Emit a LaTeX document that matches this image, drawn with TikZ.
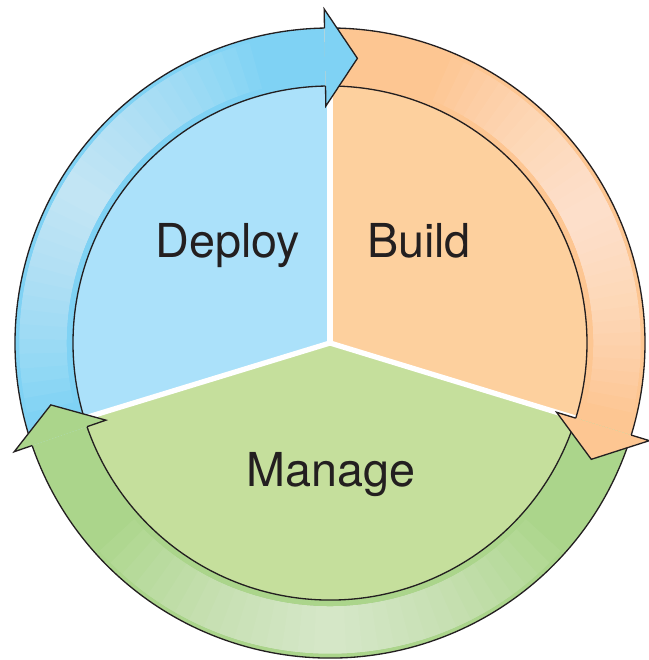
\documentclass[tikz,border=0pt]{standalone}
\usepackage{fontspec}
\setmainfont{TeX Gyre Heros}
\definecolor{pieblue}{HTML}{ABE1FA}
\definecolor{pieorange}{HTML}{FDD09E}
\definecolor{piegreen}{HTML}{C5DF9C}
\definecolor{arrblue}{HTML}{7FD2F4}
\definecolor{arrorange}{HTML}{FDC692}
\definecolor{arrgreen}{HTML}{ABD58B}
\definecolor{ink}{HTML}{231F20}
\begin{document}
\begin{tikzpicture}[scale=0.02,
		label/.style={anchor=base, text=ink, inner sep=0pt, font=\fontsize{26.6}{30}\selectfont},
		rim/.style={draw=ink, line width=0.75pt},
		divider/.style={draw=white, line width=3pt, line cap=round}]
		
		\useasboundingbox (-330,-317) rectangle (318,343);
		
		% Pie sectors
		\fill[pieblue] (0,0) -- (90:258) arc[start angle=90, end angle=197, radius=258] -- cycle;
		\fill[piegreen] (0,0) -- (197:258) arc[start angle=197, end angle=343, radius=258] -- cycle;
		\fill[pieorange] (0,0) -- (-17:258) arc[start angle=-17, end angle=90, radius=258] -- cycle;
		\draw[divider] (0,0) -- (90:257);
		\draw[divider] (0,0) -- (197:257);
		\draw[divider] (0,0) -- (-17:257);
		
		% Arrow shafts (tail angle / base angle / highlight middle / highlight half width)
		\foreach \col/\ta/\ba/\hm/\hw in {arrblue/199/91/149/44, arrorange/91/-17/27/40, arrgreen/-17/-161/-90/48} {
			\fill[\col] (\ta:315) arc[start angle=\ta, end angle=\ba, radius=315]
				-- (\ba:257) arc[start angle=\ba, end angle=\ta, radius=257] -- cycle;
			\foreach \k in {1,...,16} {
				\draw[white, opacity=0.05, line width=27pt]
					({\hm+\k*\hw/16}:287) arc[start angle={\hm+\k*\hw/16}, end angle={\hm-\k*\hw/16}, radius=287];
			}
			\draw[rim] (\ta:315) arc[start angle=\ta, end angle=\ba, radius=315];
			\draw[rim] (\ta:257) arc[start angle=\ta, end angle=\ba, radius=257];
		}
		
		% Arrow heads
		\foreach \col/\ba/\tip in {arrblue/91/84.5, arrorange/-17/-24, arrgreen/199/192.5} {
			\fill[\col] (\ba:257) -- (\ba:237) -- (\tip:286) -- (\ba:334) -- (\ba:315) -- cycle;
			\draw[rim, line join=miter] (\ba:257) -- (\ba:237) -- (\tip:286) -- (\ba:334) -- (\ba:315);
		}
		
		% Labels
		\node[label] (deploy) at (-102,85) {Deploy};
		\node[label] (build) at (89,85) {Build};
		\node[label] (manage) at (1,-144) {Manage};
		
	\end{tikzpicture}
\end{document}
